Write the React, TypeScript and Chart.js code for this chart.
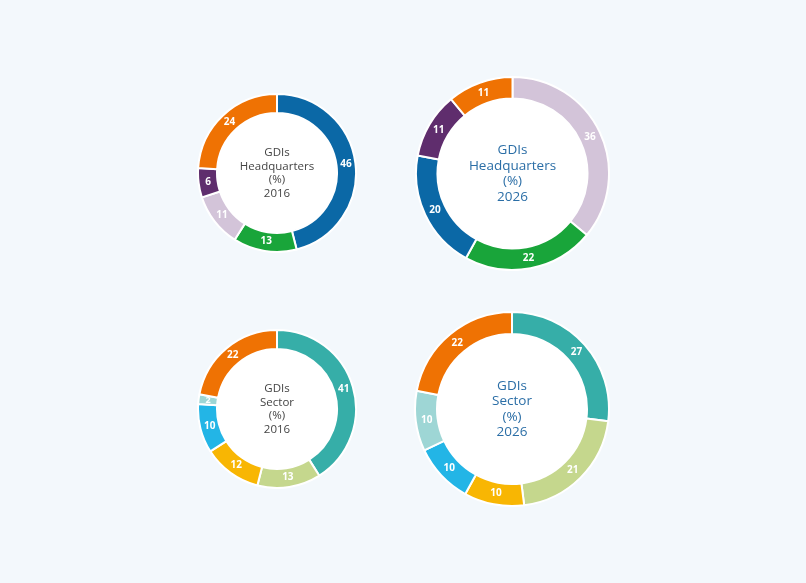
import { useEffect, useRef } from 'react';
import { Chart, registerables } from 'chart.js';

Chart.register(...registerables);

// Headquarters split
const hqLabels2016 = ['A', 'B', 'C', 'D', 'E'];
const hqValues2016 = [46, 13, 11, 6, 24];
const hqColors2016 = ['#0b68a6', '#19a53a', '#d3c4d9', '#5f2d6d', '#ef7203'];

const hqLabels2026 = ['C', 'B', 'A', 'D', 'E'];
const hqValues2026 = [36, 22, 20, 11, 11];
const hqColors2026 = ['#d3c4d9', '#19a53a', '#0b68a6', '#5f2d6d', '#ef7203'];

// Sector split
const sectorLabels2016 = ['S1', 'S2', 'S3', 'S4', 'S5', 'S6'];
const sectorValues2016 = [41, 13, 12, 10, 2, 22];
const sectorLabels2026 = ['S1', 'S2', 'S3', 'S4', 'S5', 'S6'];
const sectorValues2026 = [27, 21, 10, 10, 10, 22];
const sectorColors = ['#36aea8', '#c5d78d', '#f8b603', '#23b5e6', '#9ed6d5', '#ef7203'];

const titleHQ = ['GDIs', 'Headquarters', '(%)'];
const titleSector = ['GDIs', 'Sector', '(%)'];

const FONT = '"Open Sans", "Noto Sans", sans-serif';

type DonutProps = {
  labels: string[];
  values: number[];
  colors: string[];
  title: string[];
  year: string;
  cx: number;
  cy: number;
  r: number;
  inner: number;
  big: boolean;
};

function Donut({ labels, values, colors, title, year, cx, cy, r, inner, big }: DonutProps) {
  const canvasRef = useRef<HTMLCanvasElement>(null);
  const chartInstance = useRef<Chart | null>(null);

  useEffect(() => {
    if (!canvasRef.current) return;
    const ctx = canvasRef.current.getContext('2d');
    if (!ctx) return;
    if (chartInstance.current) chartInstance.current.destroy();

    const centerPlugin = {
      id: 'centerStuff',
      beforeDatasetsDraw(chart: any) {
        const arc = chart.getDatasetMeta(0).data[0];
        if (!arc) return;
        const c = chart.ctx;
        c.save();
        c.beginPath();
        c.arc(arc.x, arc.y, arc.innerRadius, 0, Math.PI * 2);
        c.fillStyle = '#ffffff';
        c.fill();
        c.restore();
      },
      afterDatasetsDraw(chart: any) {
        const meta = chart.getDatasetMeta(0);
        const c = chart.ctx;
        c.save();
        c.textAlign = 'center';
        c.textBaseline = 'middle';
        c.fillStyle = '#ffffff';
        meta.data.forEach((el: any, i: number) => {
          const p = el.tooltipPosition();
          const v = values[i];
          c.font = `bold ${v < 5 ? 9 : 10}px ${FONT}`;
          c.fillText(String(v), p.x, p.y);
        });
        const arc = meta.data[0];
        const lines = [...title, year];
        const fs = big ? 13.5 : 11.5;
        const lh = big ? 15.5 : 13.5;
        c.font = `${fs}px ${FONT}`;
        c.fillStyle = big ? '#2b6ea6' : '#444444';
        const start = arc.y - (lh * (lines.length - 1)) / 2;
        lines.forEach((t, i) => c.fillText(t, arc.x, start + i * lh));
        c.restore();
      },
    };

    chartInstance.current = new Chart(ctx, {
      type: 'doughnut',
      data: {
        labels,
        datasets: [
          {
            data: values,
            backgroundColor: colors,
            borderColor: '#ffffff',
            borderWidth: 2,
          },
        ],
      },
      options: {
        responsive: false,
        animation: false,
        cutout: inner,
        layout: { padding: 0 },
        plugins: {
          legend: { display: false },
          tooltip: { enabled: false },
        },
      },
      plugins: [centerPlugin],
    });

    return () => {
      if (chartInstance.current) {
        chartInstance.current.destroy();
        chartInstance.current = null;
      }
    };
  }, [labels, values, colors, title, year, inner, big]);

  const size = 2 * r + 2;
  return (
    <canvas
      ref={canvasRef}
      width={size}
      height={size}
      style={{ position: 'absolute', left: cx - size / 2, top: cy - size / 2, width: size, height: size }}
    />
  );
}

export default function App() {
  useEffect(() => {
    document.body.style.margin = '0';
    document.body.style.background = '#f3f8fc';
  }, []);

  return (
    <div style={{ position: 'relative', width: 806, height: 583, background: '#f3f8fc', overflow: 'hidden' }}>
      <Donut labels={hqLabels2016} values={hqValues2016} colors={hqColors2016} title={titleHQ} year="2016"
        cx={276.5} cy={173} r={79} inner={60} big={false} />
      <Donut labels={hqLabels2026} values={hqValues2026} colors={hqColors2026} title={titleHQ} year="2026"
        cx={512} cy={173.5} r={96.5} inner={75} big={true} />
      <Donut labels={sectorLabels2016} values={sectorValues2016} colors={sectorColors} title={titleSector} year="2016"
        cx={276.5} cy={408.5} r={79} inner={60} big={false} />
      <Donut labels={sectorLabels2026} values={sectorValues2026} colors={sectorColors} title={titleSector} year="2026"
        cx={511.5} cy={409} r={97} inner={75} big={true} />
    </div>
  );
}
